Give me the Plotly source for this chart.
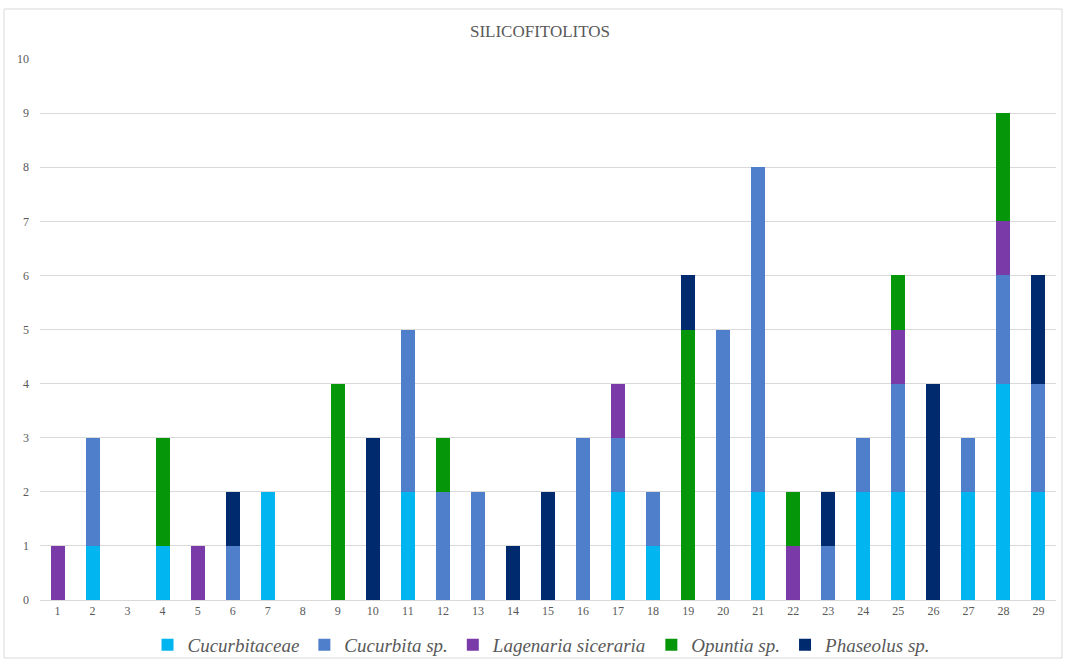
import plotly.graph_objects as go

categories = [str(i) for i in range(1, 30)]
cucurbitaceae = [0,1,0,1,0,0,2,0,0,0,2,0,0,0,0,0,2,1,0,0,2,0,0,2,2,0,2,4,2]
cucurbita_sp  = [0,2,0,0,0,1,0,0,0,0,3,2,2,0,0,3,1,1,0,5,6,0,1,1,2,0,1,2,2]
lagenaria     = [1,0,0,0,1,0,0,0,0,0,0,0,0,0,0,0,1,0,0,0,0,1,0,0,1,0,0,1,0]
opuntia       = [0,0,0,2,0,0,0,0,4,0,0,1,0,0,0,0,0,0,5,0,0,1,0,0,1,0,0,2,0]
phaseolus     = [0,0,0,0,0,1,0,0,0,3,0,0,0,1,2,0,0,0,1,0,0,0,1,0,0,4,0,0,2]

series = [
    ("Cucurbitaceae", cucurbitaceae, "#00B5F0"),
    ("Cucurbita sp.", cucurbita_sp, "#4F7FCB"),
    ("Lagenaria siceraria", lagenaria, "#7A3BA8"),
    ("Opuntia sp.", opuntia, "#06960A"),
    ("Phaseolus sp.", phaseolus, "#002A6E"),
]

FONT = "Liberation Serif"

fig = go.Figure()
for name, vals, col in series:
    fig.add_trace(go.Bar(x=categories, y=vals, name=name,
                         marker=dict(color=col, line=dict(width=0))))

L, R, T, B = 40, 10, 59, 62
W, H = 1066, 662
pw, ph = W - L - R, H - T - B

def px(x):
    return (x - L) / pw

def py(y):
    return (H - B - y) / ph

fig.add_shape(type="rect", xref="paper", yref="paper",
              x0=px(4), x1=px(1062), y0=py(658), y1=py(9),
              line=dict(color="#D9D9D9", width=1), fillcolor="rgba(0,0,0,0)", layer="below")

fig.update_layout(
    width=W, height=H,
    barmode="stack", bargap=0.6,
    margin=dict(l=L, r=R, t=T, b=B, autoexpand=False),
    paper_bgcolor="white", plot_bgcolor="white",
    font=dict(family=FONT, color="#595959"),
    title=dict(text="SILICOFITOLITOS", x=540 / W, xanchor="center",
               y=1 - 31 / H, yanchor="middle", yref="container",
               font=dict(family=FONT, size=17, color="#595959")),
    xaxis=dict(type="category", showgrid=False, showline=True, linecolor="#D9D9D9",
               linewidth=1, ticks="", tickfont=dict(family=FONT, size=12, color="#595959")),
    yaxis=dict(range=[0, 10], dtick=1, showgrid=True, gridcolor="#D9D9D9",
               gridwidth=1, zeroline=False, showline=False, ticks="",
               tickfont=dict(family=FONT, size=12, color="#595959"), ticklabelstandoff=10),
    legend=dict(orientation="h", x=px(542),
                xanchor="center", y=py(645), yanchor="middle",
                bgcolor="rgba(0,0,0,0)",
                font=dict(family=FONT, size=19, color="#595959", style="italic"),
                traceorder="normal", itemwidth=30),
    showlegend=True,
)

fig.write_html("out.html", config={"displayModeBar": False},
               post_script="document.body.style.margin='0';document.body.style.overflow='hidden';")
